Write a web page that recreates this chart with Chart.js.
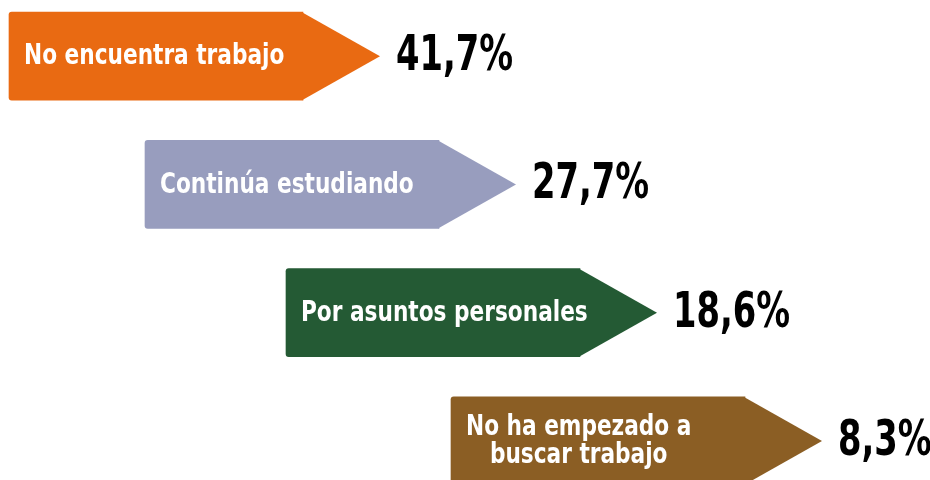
<!DOCTYPE html>
<html>
<head>
<meta charset="utf-8">
<script src="https://cdn.jsdelivr.net/npm/chart.js@4"></script>
<style>
  html, body { margin: 0; padding: 0; background: #fff; overflow: hidden; }
  #wrap { position: absolute; left: 0; top: -8px; width: 930px; height: 513px; }
</style>
</head>
<body>
<div id="wrap"><canvas id="myChart"></canvas></div>
<script>
// data
const categories = [
  "No encuentra trabajo",
  "Continúa estudiando",
  "Por asuntos personales",
  ["No ha empezado a", "buscar trabajo"],
];
const values = [41.7, 27.7, 18.6, 8.3];

// layout (x scale runs 0..930, one unit per pixel)
const rowStart = [9, 145, 286, 451];
const bodyLen = 294;
const tipLen = 77;
const colors = ["#E96A12", "#989DBE", "#245A34", "#8B5E24"];

const fontFamily = "'DejaVu Sans Condensed', 'Liberation Sans Narrow', sans-serif";
const labelFont = "bold 28px " + fontFamily;
const valueFont = "bold 50px " + fontFamily;
// squeeze the glyphs a bit, the original type is narrower
const labelSqueeze = 0.86;
const valueSqueeze = 0.75;

const fmt = (v) => v.toFixed(1).replace(".", ",") + "%";

function squeezedText(ctx, text, x, y, sx) {
  ctx.save();
  ctx.translate(x, y);
  ctx.scale(sx, 1);
  ctx.fillText(text, 0, 0);
  ctx.restore();
}

const arrowPlugin = {
  id: "arrows",
  afterDatasetsDraw(chart) {
    const ctx = chart.ctx;
    const xs = chart.scales.x;
    const meta = chart.getDatasetMeta(0);
    meta.data.forEach((bar, i) => {
      const h = bar.height;
      const tipX = xs.getPixelForValue(rowStart[i] + bodyLen + tipLen);
      ctx.save();
      // arrow head
      ctx.fillStyle = colors[i];
      ctx.beginPath();
      ctx.moveTo(bar.x - 1, bar.y - h / 2);
      ctx.lineTo(tipX, bar.y);
      ctx.lineTo(bar.x - 1, bar.y + h / 2);
      ctx.closePath();
      ctx.fill();

      // label inside arrow
      const lines = Array.isArray(categories[i]) ? categories[i] : [categories[i]];
      ctx.font = labelFont;
      ctx.fillStyle = "#fff";
      ctx.textBaseline = "middle";
      ctx.textAlign = "center";
      const blockW = Math.max(...lines.map((l) => ctx.measureText(l).width)) * labelSqueeze;
      const left = bar.base + 15;
      const lh = 28;
      lines.forEach((l, k) => {
        const y = bar.y + (k - (lines.length - 1) / 2) * lh + 1;
        squeezedText(ctx, l, left + blockW / 2, y, labelSqueeze);
      });

      // value
      ctx.font = valueFont;
      ctx.fillStyle = "#000";
      ctx.textAlign = "left";
      squeezedText(ctx, fmt(values[i]), tipX + 16, bar.y + 1, valueSqueeze);
      ctx.restore();
    });
  },
};

const data = {
  labels: categories,
  datasets: [
    {
      data: rowStart.map((s) => [s, s + bodyLen]),
      backgroundColor: colors,
      borderRadius: { topLeft: 3, bottomLeft: 3 },
      borderSkipped: false,
      barThickness: 88,
    },
  ],
};

const config = {
  type: "bar",
  data: data,
  options: {
    indexAxis: "y",
    responsive: true,
    maintainAspectRatio: false,
    animation: false,
    layout: { padding: 0 },
    plugins: { legend: { display: false }, tooltip: { enabled: false } },
    scales: {
      x: { type: "linear", min: 0, max: 930, display: false },
      y: { display: false },
    },
  },
  plugins: [arrowPlugin],
};

const myChart = new Chart(document.getElementById("myChart"), config);
</script>
</body>
</html>
